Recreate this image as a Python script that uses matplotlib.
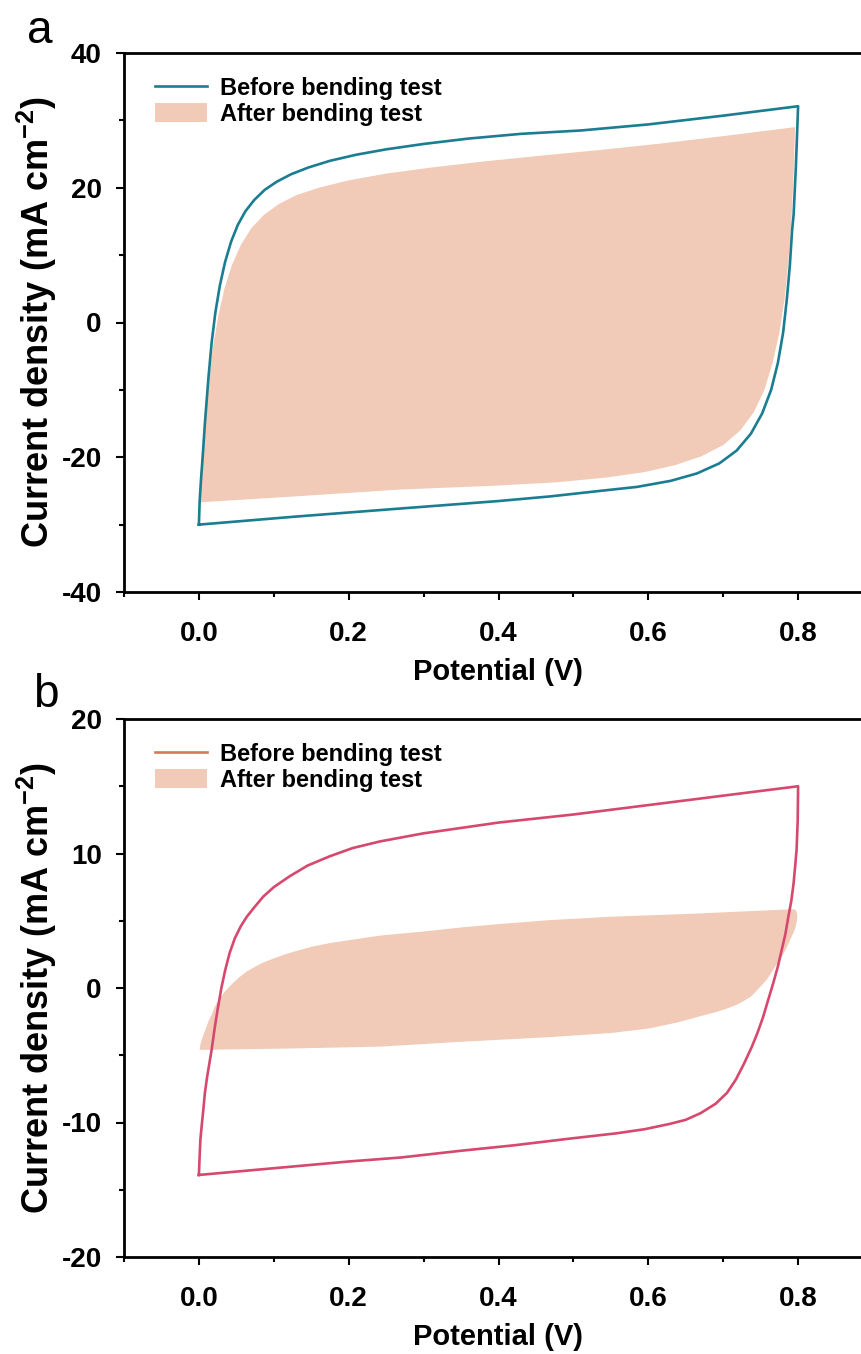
import numpy as np
from matplotlib import pyplot as plt
from matplotlib.lines import Line2D
from matplotlib.patches import Patch
from matplotlib.ticker import MultipleLocator, FormatStrFormatter

plt.rcParams["font.family"] = ["Liberation Sans", "DejaVu Sans"]
plt.rcParams["font.weight"] = "bold"
plt.rcParams["axes.unicode_minus"] = False
plt.rcParams["mathtext.fontset"] = "custom"
plt.rcParams["mathtext.rm"] = "Liberation Sans:bold"
plt.rcParams["mathtext.bf"] = "Liberation Sans:bold"
plt.rcParams["mathtext.default"] = "bf"

# ---- panel a : CV loops (V, mA cm-2) ----
a_before_fwd_v = [0.0, 0.001, 0.003, 0.005, 0.008, 0.0125, 0.017, 0.022, 0.028, 0.035,
                  0.043, 0.052, 0.062, 0.074, 0.088, 0.104, 0.123, 0.146, 0.175, 0.21,
                  0.25, 0.30, 0.36, 0.43, 0.51, 0.60, 0.70, 0.80]
a_before_fwd_i = [-30.0, -26.5, -23.0, -20.0, -15.0, -8.5, -3.0, 1.5, 5.5, 9.0,
                  12.0, 14.5, 16.5, 18.2, 19.7, 20.9, 22.0, 23.0, 24.0, 24.9,
                  25.7, 26.5, 27.3, 28.0, 28.5, 29.4, 30.7, 32.1]
a_before_rev_v = [0.800, 0.797, 0.794, 0.792, 0.789, 0.785, 0.780, 0.773, 0.764, 0.752,
                  0.737, 0.718, 0.695, 0.665, 0.63, 0.585, 0.535, 0.47, 0.40, 0.27,
                  0.13, 0.0]
a_before_rev_i = [32.1, 23.0, 16.0, 13.7, 8.5, 3.5, -1.5, -6.0, -10.0, -13.5,
                  -16.5, -19.0, -20.9, -22.4, -23.5, -24.4, -25.0, -25.8, -26.5, -27.6,
                  -28.8, -30.0]

a_after_fwd_v = [0.0, 0.002, 0.005, 0.009, 0.0135, 0.019, 0.026, 0.034, 0.044, 0.056,
                 0.07, 0.087, 0.107, 0.13, 0.16, 0.20, 0.25, 0.31, 0.38, 0.46,
                 0.535, 0.62, 0.71, 0.796]
a_after_fwd_i = [-26.7, -23.0, -19.0, -14.0, -8.5, -3.5, 1.0, 5.0, 8.5, 11.5,
                 14.0, 16.0, 17.6, 18.9, 20.0, 21.1, 22.1, 23.0, 23.9, 24.8,
                 25.6, 26.6, 27.8, 29.0]
a_after_rev_v = [0.796, 0.794, 0.791, 0.787, 0.782, 0.775, 0.766, 0.755, 0.741, 0.723,
                 0.70, 0.67, 0.635, 0.595, 0.545, 0.48, 0.40, 0.268, 0.13, 0.0]
a_after_rev_i = [29.0, 22.0, 15.0, 9.0, 3.5, -1.5, -6.0, -10.0, -13.3, -16.0,
                 -18.2, -19.9, -21.2, -22.2, -23.0, -23.7, -24.2, -24.8, -25.8, -26.7]

# ---- panel b ----
b_before_fwd_v = [0.0, 0.001, 0.002, 0.004, 0.006, 0.008, 0.011, 0.014, 0.017, 0.021,
                  0.025, 0.030, 0.035, 0.041, 0.048, 0.056, 0.064, 0.074, 0.086, 0.10,
                  0.121, 0.145, 0.175, 0.205, 0.242, 0.30, 0.40, 0.50, 0.60, 0.70, 0.80]
b_before_fwd_i = [-13.9, -12.5, -11.25, -10.1, -9.0, -7.8, -6.6, -5.6, -4.6, -3.0,
                  -1.6, 0.0, 1.3, 2.6, 3.7, 4.6, 5.3, 6.0, 6.8, 7.5,
                  8.3, 9.1, 9.8, 10.4, 10.9, 11.5, 12.3, 12.9, 13.6, 14.3, 15.0]
b_before_rev_v = [0.800, 0.7995, 0.798, 0.796, 0.794, 0.791, 0.787, 0.783, 0.778, 0.773,
                  0.767, 0.760, 0.753, 0.746, 0.738, 0.728, 0.717, 0.705, 0.690, 0.670,
                  0.650, 0.629, 0.595, 0.558, 0.495, 0.42, 0.35, 0.27, 0.20, 0.12,
                  0.06, 0.0]
b_before_rev_i = [15.0, 12.5, 10.3, 9.0, 7.8, 6.5, 5.3, 4.0, 2.8, 1.6,
                  0.4, -0.9, -2.2, -3.3, -4.4, -5.6, -6.8, -7.8, -8.6, -9.3,
                  -9.8, -10.1, -10.5, -10.8, -11.2, -11.7, -12.1, -12.6, -12.9, -13.3,
                  -13.6, -13.9]

b_after_fwd_v = [0.001, 0.002, 0.004, 0.007, 0.010, 0.013, 0.017, 0.020, 0.024, 0.029,
                 0.034, 0.040, 0.046, 0.054, 0.063, 0.074, 0.086, 0.10, 0.115, 0.133,
                 0.153, 0.176, 0.20, 0.242, 0.30, 0.35, 0.40, 0.469, 0.55, 0.65,
                 0.73, 0.79]
b_after_fwd_i = [-4.6, -4.2, -3.8, -3.35, -2.9, -2.45, -2.0, -1.55, -1.1, -0.7,
                 -0.3, 0.05, 0.4, 0.8, 1.2, 1.55, 1.9, 2.2, 2.5, 2.8,
                 3.1, 3.35, 3.55, 3.9, 4.2, 4.5, 4.75, 5.05, 5.3, 5.5,
                 5.7, 5.85]
b_after_rev_v = [0.795, 0.798, 0.799, 0.7985, 0.797, 0.795, 0.792, 0.788, 0.783, 0.778,
                 0.772, 0.765, 0.758, 0.748, 0.738, 0.728, 0.718, 0.704, 0.69, 0.669,
                 0.64, 0.602, 0.55, 0.469, 0.35, 0.242, 0.12, 0.001]
b_after_rev_i = [5.85, 5.7, 5.3, 5.0, 4.6, 4.25, 3.9, 3.4, 2.8, 2.3,
                 1.8, 1.2, 0.6, 0.0, -0.6, -0.95, -1.25, -1.55, -1.8, -2.1,
                 -2.55, -3.0, -3.35, -3.65, -4.0, -4.36, -4.5, -4.6]

xticks = [0.0, 0.2, 0.4, 0.6, 0.8]
labels = ["Before bending test", "After bending test"]

FILL = "#f1cbb8"
W, H = 861, 1354


def draw_panel(ax, bef, aft, line_color, legend_color, ylim, ymajor, yminor):
    # after bending: filled loop
    fv = np.concatenate([aft[0], aft[2]])
    fi = np.concatenate([aft[1], aft[3]])
    ax.fill(fv, fi, color=FILL, lw=0, zorder=1)

    # before bending: outline
    bv = np.concatenate([bef[0], bef[2]])
    bi = np.concatenate([bef[1], bef[3]])
    ax.plot(bv, bi, color=line_color, lw=1.9, zorder=2, solid_joinstyle="round")

    ax.set_xlim(-0.1, 0.9)
    ax.set_ylim(*ylim)
    ax.set_xticks(xticks)
    ax.xaxis.set_minor_locator(MultipleLocator(0.1))
    ax.xaxis.set_major_formatter(FormatStrFormatter("%.1f"))
    ax.yaxis.set_major_locator(MultipleLocator(ymajor))
    ax.yaxis.set_minor_locator(MultipleLocator(yminor))

    for s in ax.spines.values():
        s.set_linewidth(2.0)
    ax.tick_params(which="major", direction="out", length=6, width=1.5, labelsize=20)
    ax.tick_params(which="minor", direction="out", length=3.5, width=1.5)
    ax.tick_params(axis="x", which="major", pad=15)
    ax.tick_params(axis="y", which="major", pad=10)

    ax.set_xlabel("Potential (V)", fontsize=21, fontweight="bold", labelpad=8)
    ax.set_ylabel(r"Current density (mA cm$^{-2}$)", fontsize=26,
                  fontweight="bold", labelpad=2)

    handles = [Line2D([], [], color=legend_color, lw=1.9),
               Patch(facecolor=FILL, edgecolor="none")]
    ax.legend(handles=handles, labels=labels, loc="upper left",
              bbox_to_anchor=(0.041, 0.955), frameon=False,
              prop={"weight": "bold", "size": 17},
              handlelength=2.2, handleheight=0.9, handletextpad=0.55,
              labelspacing=0.1, borderpad=0, borderaxespad=0)


fig = plt.figure(figsize=(W / 100, H / 100), dpi=100)

left = 124 / W
width = 749 / W
ax_a = fig.add_axes([left, 1 - 592 / H, width, 539 / H])
ax_b = fig.add_axes([left, 1 - 1257 / H, width, 538 / H])

draw_panel(ax_a,
           (a_before_fwd_v, a_before_fwd_i, a_before_rev_v, a_before_rev_i),
           (a_after_fwd_v, a_after_fwd_i, a_after_rev_v, a_after_rev_i),
           "#1b7d91", "#1b7d91", (-40, 40), 20, 10)
draw_panel(ax_b,
           (b_before_fwd_v, b_before_fwd_i, b_before_rev_v, b_before_rev_i),
           (b_after_fwd_v, b_after_fwd_i, b_after_rev_v, b_after_rev_i),
           "#d6486e", "#d27a5c", (-20, 20), 10, 5)

fig.text(27 / W, 1 - 43 / H, "a", fontsize=33, fontweight="normal",
         ha="left", va="baseline")
fig.text(33 / W, 1 - 707 / H, "b", fontsize=33, fontweight="normal",
         ha="left", va="baseline")

fig.savefig("out.png", dpi=100)
